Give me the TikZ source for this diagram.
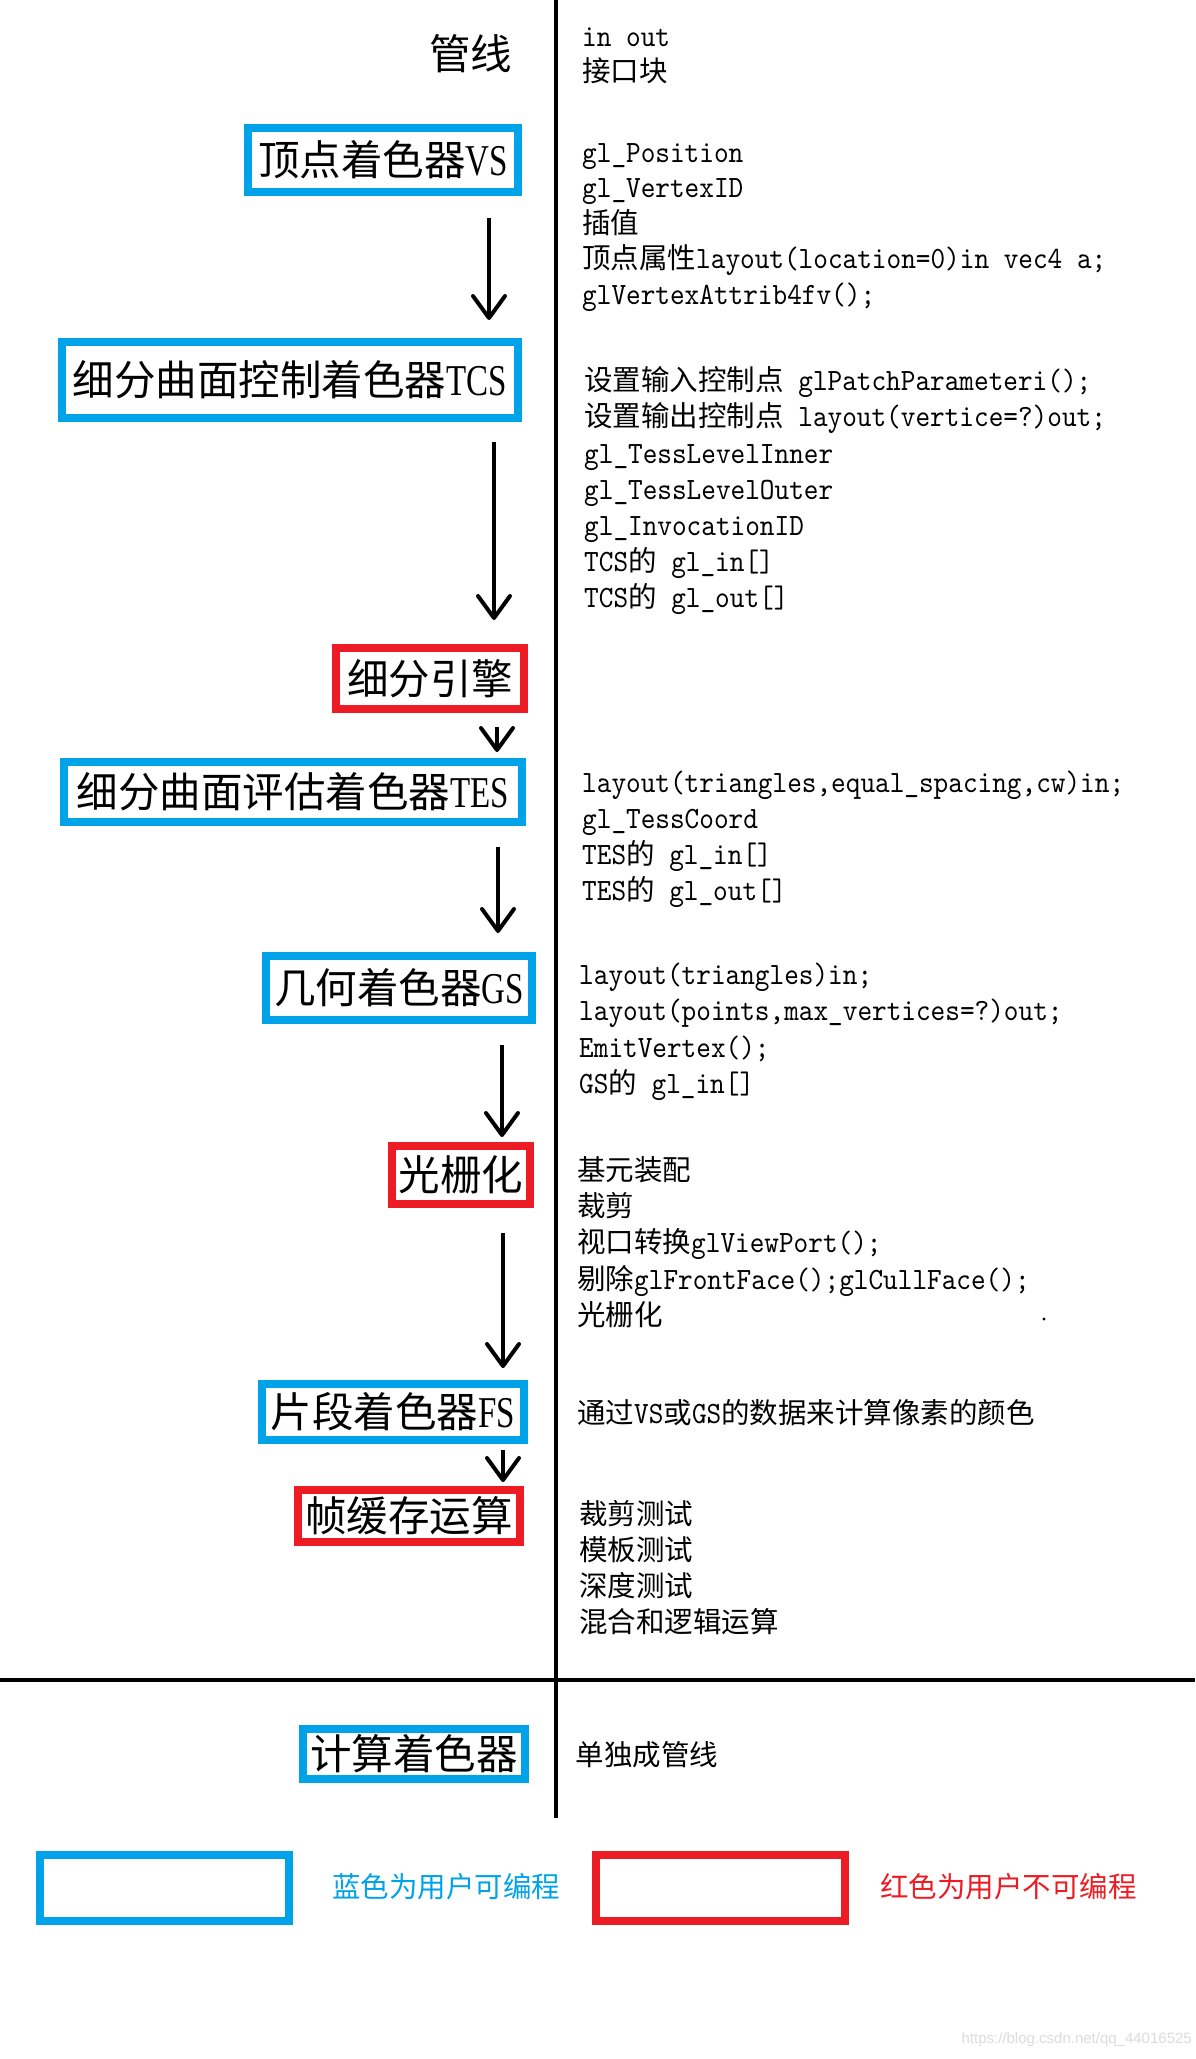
\documentclass[tikz,border=0pt]{standalone}
\usepackage{fontspec}
\usetikzlibrary{arrows.meta}
\newfontfamily\cjkfont{Noto Sans CJK SC}
\newfontfamily\lserif{Liberation Serif}[FakeStretch=0.75]
\newfontfamily\rtlatin{lmmono10-regular.otf}[FakeStretch=0.9]
\newfontfamily\wmfont{Liberation Sans}
\definecolor{pblue}{RGB}{0,162,232}
\definecolor{pred}{RGB}{237,28,36}
\definecolor{wmgray}{RGB}{220,220,220}
\newcommand\boxfont{\fontsize{41.5}{48}\selectfont\cjkfont}
\newcommand\BL[1]{{\fontsize{44}{48}\selectfont\lserif #1}}
\newcommand\rtfont{\fontsize{31}{36}\selectfont\rtlatin}
\newcommand\C[1]{{\fontsize{28.5}{36}\selectfont\cjkfont #1}}
\newcommand\legfont{\fontsize{28.5}{34}\selectfont\cjkfont}
\begin{document}
\begin{tikzpicture}[x=1pt,y=-1pt,
  stage/.style={draw, line width=8pt, inner sep=0pt, font=\boxfont},
  bluestage/.style={stage, draw=pblue},
  redstage/.style={stage, draw=pred},
  arr/.style={line width=4pt, -{Straight Barb[length=22pt,width=32pt,round]}},
  rt/.style={anchor=base west, inner sep=0pt, font=\rtfont},
  divider/.style={line width=3.5pt},
  legtext/.style={inner sep=0pt, font=\legfont}
]
\fill[white] (0,0) rectangle (1195,2059);
\useasboundingbox (0,0) rectangle (1195,2059);

% dividers
\coordinate (vtop) at (556,0);
\coordinate (vbot) at (556,1818);
\coordinate (hl) at (0,1680);
\coordinate (hr) at (1195,1680);
\draw[divider] (vtop) -- (vbot);
\draw[divider] (hl) -- (hr);

% title
\node[font=\boxfont, inner sep=0pt] (title) at (470.5,53.5) {管线};

% stages
\node[bluestage, minimum width=270pt, minimum height=64pt] (vs) at (383,160) {顶点着色器\BL{VS}};
\node[bluestage, minimum width=456pt, minimum height=76pt] (tcs) at (290,380) {细分曲面控制着色器\BL{TCS}};
\node[redstage, minimum width=188pt, minimum height=61pt] (eng) at (430,678.5) {细分引擎};
\node[bluestage, minimum width=458pt, minimum height=60pt] (tes) at (293,792) {细分曲面评估着色器\BL{TES}};
\node[bluestage, minimum width=266pt, minimum height=64pt] (gs) at (399,988) {几何着色器\BL{GS}};
\node[redstage, minimum width=138pt, minimum height=58pt] (ras) at (461,1175) {光栅化};
\node[bluestage, minimum width=262pt, minimum height=56pt] (fs) at (393,1412) {片段着色器\BL{FS}};
\node[redstage, minimum width=222pt, minimum height=52pt] (fb) at (409,1516) {帧缓存运算};
\node[bluestage, minimum width=222pt, minimum height=50pt] (cs) at (414,1754) {计算着色器};

% arrows
\coordinate (ax1) at (489,0);
\coordinate (ax2) at (494,0);
\coordinate (ax3) at (497,0);
\coordinate (ax4) at (498,0);
\coordinate (ax5) at (502,0);
\coordinate (ax6) at (503,0);
\draw[arr, shorten <=22pt, shorten >=18pt] (vs.south -| ax1) -- (tcs.north -| ax1);
\draw[arr, shorten <=20pt, shorten >=24pt] (tcs.south -| ax2) -- (eng.north -| ax2);
\draw[arr, shorten <=14pt, shorten >=6pt] (eng.south -| ax3) -- (tes.north -| ax3);
\draw[arr, shorten <=21pt, shorten >=19pt] (tes.south -| ax4) -- (gs.north -| ax4);
\draw[arr, shorten <=21pt, shorten >=5pt] (gs.south -| ax5) -- (ras.north -| ax5);
\draw[arr, shorten <=25pt, shorten >=12pt] (ras.south -| ax6) -- (fs.north -| ax6);
\draw[arr, shorten <=6pt, shorten >=4pt] (fs.south -| ax6) -- (fb.north -| ax6);

% right column
\node[rt] (r1) at (582,46.5) {in out};
\node[rt] (r2) at (582,81.5) {\C{接口块}};

\node[rt] (r3) at (582,162) {gl\_Position};
\node[rt] (r4) at (582,197.5) {gl\_VertexID};
\node[rt] (r5) at (582,233) {\C{插值}};
\node[rt] (r6) at (582,268.5) {\C{顶点属性}layout(location=0)in vec4 a;};
\node[rt] (r7) at (582,304) {glVertexAttrib4fv();};

\node[rt] (r8) at (584,390.5) {\C{设置输入控制点} glPatchParameteri();};
\node[rt] (r9) at (584,426.5) {\C{设置输出控制点} layout(vertice=?)out;};
\node[rt] (r10) at (584,463) {gl\_TessLevelInner};
\node[rt] (r11) at (584,499) {gl\_TessLevelOuter};
\node[rt] (r12) at (584,535.3) {gl\_InvocationID};
\node[rt] (r13) at (584,571.5) {TCS\C{的} gl\_in[]};
\node[rt] (r14) at (584,607.5) {TCS\C{的} gl\_out[]};

\node[rt] (r15) at (582,792.5) {layout(triangles,equal\_spacing,cw)in;};
\node[rt] (r16) at (582,828.5) {gl\_TessCoord};
\node[rt] (r17) at (582,864.5) {TES\C{的} gl\_in[]};
\node[rt] (r18) at (582,900.5) {TES\C{的} gl\_out[]};

\node[rt] (r19) at (579,984) {layout(triangles)in;};
\node[rt] (r20) at (579,1020.5) {layout(points,max\_vertices=?)out;};
\node[rt] (r21) at (579,1057) {EmitVertex();};
\node[rt] (r22) at (579,1093.5) {GS\C{的} gl\_in[]};

\node[rt] (r23) at (577,1180) {\C{基元装配}};
\node[rt] (r24) at (577,1216.5) {\C{裁剪}};
\node[rt] (r25) at (577,1252.5) {\C{视口转换}glViewPort();};
\node[rt] (r26) at (577,1289.5) {\C{剔除}glFrontFace();glCullFace();};
\node[rt] (r27) at (577,1325) {\C{光栅化}};
\fill (1044,1319) circle (1.6pt);

\node[rt] (r28) at (577,1423.3) {\C{通过}VS\C{或}GS\C{的数据来计算像素的颜色}};

\node[rt] (r29) at (579,1524.5) {\C{裁剪测试}};
\node[rt] (r30) at (579,1560.8) {\C{模板测试}};
\node[rt] (r31) at (579,1596.7) {\C{深度测试}};
\node[rt] (r32) at (579,1632.5) {\C{混合和逻辑运算}};

\node[rt] (r33) at (575.5,1765) {\C{单独成管线}};

% legend
\node[bluestage, minimum width=249pt, minimum height=66pt] (legb) at (164.5,1888) {};
\node[redstage, minimum width=249pt, minimum height=66pt] (legr) at (720.5,1888) {};
\node[legtext, text=pblue] (legbt) at (446,1887) {蓝色为用户可编程};
\node[legtext, text=pred] (legrt) at (1008.5,1887) {红色为用户不可编程};

% watermark
\node[anchor=east, inner sep=0pt, font=\fontsize{15}{18}\selectfont\wmfont, text=wmgray] (wm) at (1192,2040) {https://blog.csdn.net/qq\_44016525};
\end{tikzpicture}
\end{document}
